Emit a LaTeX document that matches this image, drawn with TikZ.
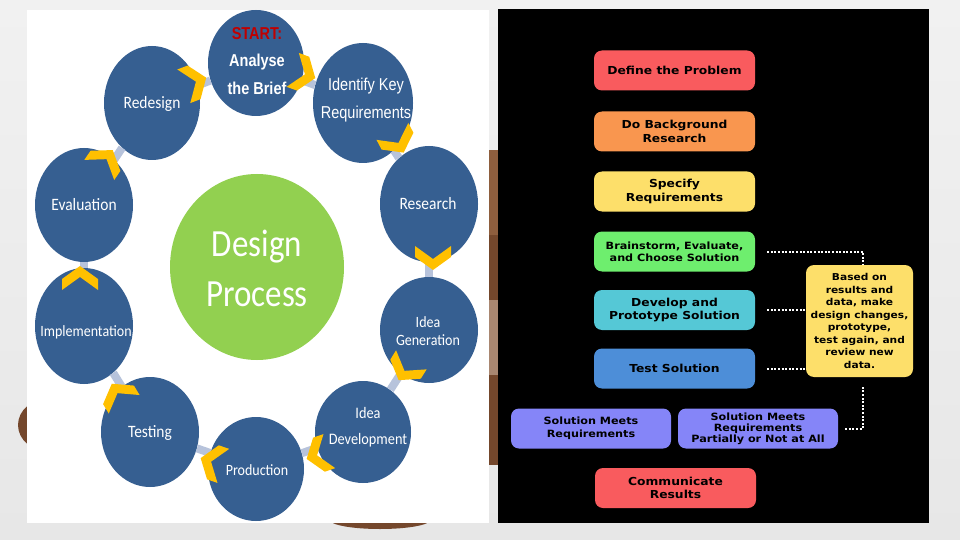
\documentclass[tikz,border=0pt]{standalone}
\usepackage{fontspec}
\setmainfont{DejaVu Sans}
\newfontfamily\calib{Carlito}
\newfontfamily\arialf{Liberation Sans}
\newfontfamily\verd[FakeStretch=1.12]{DejaVu Sans}
\usetikzlibrary{shapes.geometric,calc}
\definecolor{bgtop}{HTML}{F1F1F1}
\definecolor{bgbot}{HTML}{E7E7E7}
\definecolor{cblue}{HTML}{365F91}
\definecolor{cgreen}{HTML}{92D050}
\definecolor{chevc}{HTML}{FFC000}
\definecolor{barc}{HTML}{B7C3DB}
\definecolor{bred}{HTML}{F95B5E}
\definecolor{borange}{HTML}{F9964F}
\definecolor{byellow}{HTML}{FDDF6A}
\definecolor{bgreen}{HTML}{6EEE6E}
\definecolor{bcyan}{HTML}{55C8D6}
\definecolor{bblue}{HTML}{4D8ED8}
\definecolor{bviolet}{HTML}{8585F8}
\definecolor{startred}{HTML}{C00000}
\definecolor{wood}{HTML}{74472C}
\definecolor{woodlight}{HTML}{8E5E3E}
\tikzset{
  circ/.style={ellipse, fill=cblue, inner sep=0pt, draw=none},
  ctext/.style={text=white, align=center, inner sep=0pt, font=\calib\fontsize{15.5}{19}\selectfont, yscale=1.12},
  bar/.style={draw=barc, line width=8pt},
  chevron/.pic={\fill[chevc] (-12,18) -- (-1,18) -- (12,0) -- (-1,-18) -- (-12,-18) -- (1,0) -- cycle;},
  rbox/.style={rounded corners=8pt, minimum width=161pt, minimum height=40pt, inner sep=2pt, align=center, text=black, font=\verd\bfseries\fontsize{11}{13.5}\selectfont},
  smallbox/.style={font=\verd\bfseries\fontsize{10}{12}\selectfont},
  dotc/.style={draw=white, line width=2pt, dash pattern=on 2pt off 1.6pt}
}
\begin{document}
\begin{tikzpicture}[x=1pt,y=-1pt]
\useasboundingbox (0,0) rectangle (960,540);
\shade[top color=bgtop, bottom color=bgbot] (0,0) rectangle (960,540);
% wooden objects behind the panels
\fill[wood] (50,425) ellipse [x radius=32pt, y radius=27pt];
\fill[woodlight] (480,150) rectangle (505,235);
\fill[wood] (480,235) rectangle (505,300);
\fill[woodlight!70!bgbot] (480,300) rectangle (505,375);
\fill[wood] (480,375) rectangle (505,465);
\fill[wood] (380,520) ellipse [x radius=50pt, y radius=9pt];
% panels
\fill[white] (27,10) rectangle (489,523);
\fill[black] (498,9) rectangle (929,523);
% circles
\node[circ, minimum width=96pt, minimum height=106pt] (ab) at (256,63) {};
\node[circ, minimum width=100pt, minimum height=120pt] (ik) at (363,103) {};
\node[circ, minimum width=98pt, minimum height=116pt] (rs) at (429,204) {};
\node[circ, minimum width=98pt, minimum height=106pt] (ig) at (429,330) {};
\node[circ, minimum width=96pt, minimum height=102pt] (id) at (363,432) {};
\node[circ, minimum width=96pt, minimum height=104pt] (pr) at (256,469) {};
\node[circ, minimum width=98pt, minimum height=110pt] (te) at (150,432) {};
\node[circ, minimum width=98pt, minimum height=116pt] (im) at (84,326) {};
\node[circ, minimum width=98pt, minimum height=114pt] (ev) at (84,205) {};
\node[circ, minimum width=96pt, minimum height=114pt] (rd) at (152,103) {};
\node[ellipse, fill=cgreen, inner sep=0pt, minimum width=174pt, minimum height=186pt] (dp) at (257,267) {};
% connector bars
\draw[bar] (rd) -- (ab);
\draw[bar] (ab) -- (ik);
\draw[bar] (ik) -- (rs);
\draw[bar] (rs) -- (ig);
\draw[bar] (ig) -- (id);
\draw[bar] (id) -- (pr);
\draw[bar] (pr) -- (te);
\draw[bar] (te) -- (im);
\draw[bar] (im) -- (ev);
\draw[bar] (ev) -- (rd);
% chevrons
\pic[rotate=21] at (195,82) {chevron};
\pic[rotate=-20] at (304,74) {chevron};
\pic[rotate=-62] at (398,142) {chevron};
\pic[rotate=-90] at (433,258) {chevron};
\pic[rotate=-122] at (405,370) {chevron};
\pic[rotate=199] at (318,455) {chevron};
\pic[rotate=161] at (212,462) {chevron};
\pic[rotate=121] at (118,394) {chevron};
\pic[rotate=90] at (80,278) {chevron};
\pic[rotate=56] at (106,160) {chevron};
% circle texts
\node[ctext, font=\arialf\bfseries\fontsize{14.5}{23.5}\selectfont, yscale=1.06] (ab-t) at (257,61) {{\color{startred}START:}\\Analyse\\the Brief};
\node[ctext, font=\arialf\fontsize{14.5}{23.5}\selectfont, yscale=1.06] (ik-t) at (366,100) {Identify Key\\Requirements};
\node[ctext] (rs-t) at (428,204) {Research};
\node[ctext, font=\calib\fontsize{14}{15.5}\selectfont] (ig-t) at (428,331) {Idea\\Generation};
\node[ctext, font=\calib\fontsize{14.3}{23.5}\selectfont] (id-t) at (368,427) {Idea\\Development};
\node[ctext, font=\calib\fontsize{14}{17}\selectfont] (pr-t) at (257,470) {Production};
\node[ctext] (te-t) at (150,433) {Testing};
\node[ctext, font=\calib\fontsize{14}{17}\selectfont] (im-t) at (86,332) {Implementation};
\node[ctext] (ev-t) at (84,205) {Evaluation};
\node[ctext] (rd-t) at (152,104) {Redesign};
\node[ctext, font=\calib\fontsize{33}{43}\selectfont, yscale=1.04] (dp-t) at (257,268) {Design\\Process};
% right panel
\node[rbox, fill=bred] (def) at (674.5,70.5) {Define the Problem};
\node[rbox, fill=borange] (bg) at (674.5,131.5) {Do Background\\Research};
\node[rbox, fill=byellow] (spec) at (674.5,191.5) {Specify\\Requirements};
\node[rbox, smallbox, fill=bgreen] (brain) at (674.5,251.5) {Brainstorm, Evaluate,\\and Choose Solution};
\node[rbox, fill=bcyan] (dev) at (674.5,310) {Develop and\\Prototype Solution};
\node[rbox, fill=bblue] (test) at (674.5,368.5) {Test Solution};
\node[rbox, smallbox, fill=bviolet, minimum width=160pt, font=\verd\bfseries\fontsize{10}{13}\selectfont] (meets) at (591,428.5) {Solution Meets\\Requirements};
\node[rbox, smallbox, fill=bviolet, minimum width=160pt, font=\verd\bfseries\fontsize{10}{11}\selectfont] (part) at (758,428.5) {Solution Meets\\Requirements\\Partially or Not at All};
\node[rbox, fill=bred] (comm) at (675.5,488) {Communicate\\Results};
\node[rbox, fill=byellow, minimum width=107pt, minimum height=112pt, inner sep=1pt, font=\verd\bfseries\fontsize{9.5}{12.5}\selectfont] (based) at (859.5,321) {Based on\\results and\\data, make\\design changes,\\prototype,\\test again, and\\review new\\data.};
% dotted feedback lines
\draw[dotc] ([xshift=12pt]brain.east) -| ([xshift=3.5pt]based.north);
\draw[dotc] ([xshift=12pt]dev.east) -- (dev.east -| based.west);
\draw[dotc] ([xshift=12pt]test.east) -- (test.east -| based.west);
\draw[dotc] ([xshift=7pt]part.east) -| ([xshift=3.5pt,yshift=-10pt]based.south);
\end{tikzpicture}
\end{document}
